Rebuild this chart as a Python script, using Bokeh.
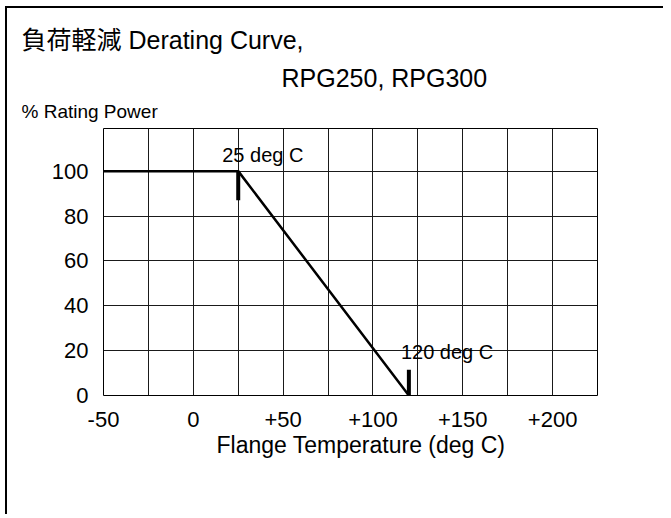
from bokeh.plotting import figure
from bokeh.models import FixedTicker, Label, Title
from bokeh.embed import file_html
from bokeh.resources import INLINE

# ---- data ----
temps = [-50, 25, 120]
power = [100, 100, 0]
x_ticks = [-50, 0, 50, 100, 150, 200]
x_tick_labels = ["-50", "0", "+50", "+100", "+150", "+200"]
x_grid = [-50, -25, 0, 25, 50, 75, 100, 125, 150, 175, 200, 225]
y_ticks = [0, 20, 40, 60, 80, 100]
marker_x = [25, 120]
marker_top = [100, 11.5]
marker_bottom = [87, 0]
marker_text = ["25 deg C", "120 deg C"]

FONT = "Liberation Sans, Noto Sans CJK JP"
OX, OY = 7, 8            # canvas origin on page (css offset + border)
W, H = 664, 508
FL, FR, FT, FB = 103, 597, 128, 395   # frame edges on page

p = figure(width=W, height=H, x_range=(-50, 225), y_range=(0, 119),
           output_backend="svg", toolbar_location=None,
           min_border_left=FL - OX, min_border_right=W - (FR - OX),
           min_border_top=FT - OY, min_border_bottom=H - (FB - OY))
p.styles = {"border-left": "2px solid black", "border-top": "2px solid black",
            "position": "relative", "left": "5px", "top": "6px",
            "clip-path": "inset(0px 6px 0px 0px)"}
p.background_fill_color = "white"
p.border_fill_color = "white"
p.outline_line_color = "black"
p.outline_line_width = 1

# titles above the frame (nearest to the frame first)
def head(text, px, size, standoff, style="normal"):
    p.add_layout(Title(text=text, align="left", offset=px - FL,
                       text_font=FONT, text_font_size=size, text_font_style=style,
                       text_color="black", standoff=standoff), "above")

head("% Rating Power", 21, "19px", 14)
head("RPG250, RPG300", 281, "25px", 0)
head("負荷軽減 Derating Curve,", 21, "25px", 15)

p.xaxis.ticker = FixedTicker(ticks=x_ticks)
p.xaxis.major_label_overrides = {t: s for t, s in zip(x_ticks, x_tick_labels)}
p.yaxis.ticker = FixedTicker(ticks=y_ticks)
p.xgrid.ticker = FixedTicker(ticks=x_grid)
p.ygrid.ticker = FixedTicker(ticks=y_ticks)
for g in (p.xgrid, p.ygrid):
    g.grid_line_color = "#1a1a1a"
    g.grid_line_width = 1
for ax in (p.xaxis, p.yaxis):
    ax.axis_line_color = None
    ax.major_tick_line_color = None
    ax.minor_tick_line_color = None
    ax.major_label_text_font = FONT
    ax.major_label_text_font_size = "22px"
    ax.major_label_text_color = "black"
p.xaxis.major_label_standoff = 10
p.yaxis.major_label_standoff = 9

p.line(temps, power, line_color="black", line_width=2.5)
p.segment(x0=marker_x, y0=marker_bottom, x1=marker_x, y1=marker_top,
          line_color="black", line_width=4)

p.add_layout(Label(x=marker_x[0], y=marker_top[0], x_offset=-16, y_offset=16,
                   text=marker_text[0], text_font=FONT, text_font_size="20px",
                   text_color="black", text_baseline="alphabetic"))
p.add_layout(Label(x=marker_x[1], y=marker_bottom[1], x_offset=-8, y_offset=44,
                   text=marker_text[1], text_font=FONT, text_font_size="20px",
                   text_color="black", text_baseline="alphabetic"))

p.add_layout(Title(text="Flange Temperature (deg C)", align="left", offset=216 - FL,
                   text_font=FONT, text_font_size="23px", text_font_style="normal",
                   text_color="black", standoff=0), "below")

open("out.html", "w").write(file_html(p, INLINE))
